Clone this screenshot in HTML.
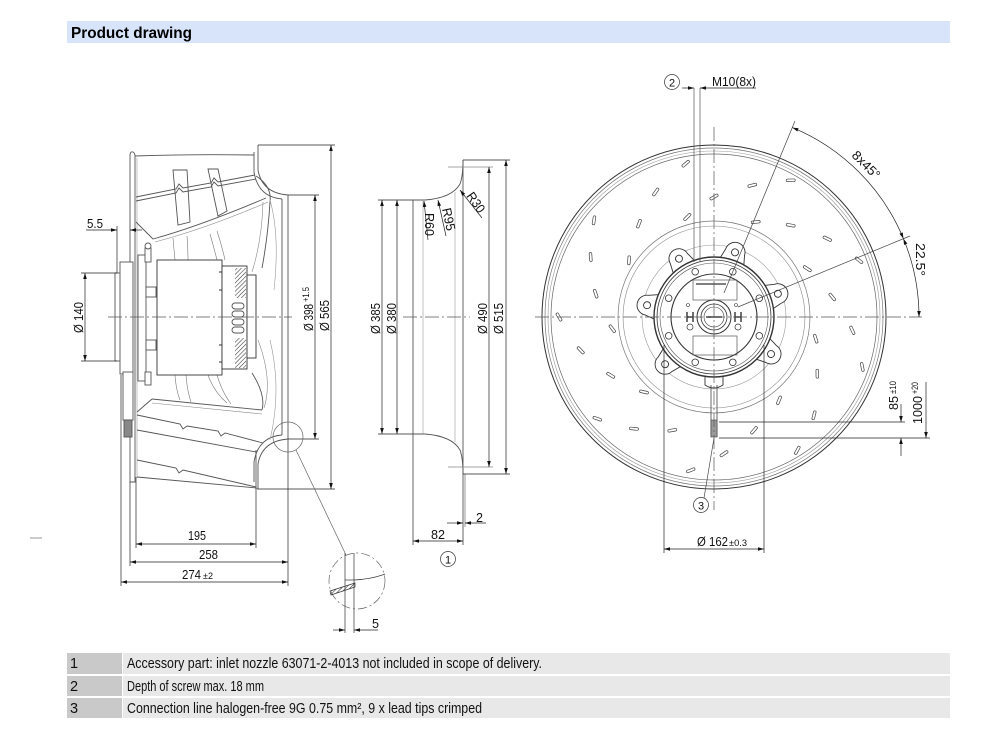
<!DOCTYPE html>
<html><head><meta charset="utf-8">
<style>
html,body{margin:0;padding:0;background:#fff;}
svg{display:block;}
</style></head><body>
<svg width="1000" height="740" viewBox="0 0 1000 740" xmlns="http://www.w3.org/2000/svg" font-family="'Liberation Sans Narrow','Liberation Sans',Arial,sans-serif">
<defs>
<marker id="ar" viewBox="0 0 10 6" refX="10" refY="3" markerWidth="8" markerHeight="3.6" orient="auto-start-reverse" markerUnits="userSpaceOnUse"><path d="M0,0L10,3L0,6z" fill="#111"/></marker>
<pattern id="h" width="3" height="3" patternUnits="userSpaceOnUse" patternTransform="rotate(45)"><line x1="0" y1="0" x2="0" y2="3" stroke="#333" stroke-width="1.1"/></pattern>
</defs>
<rect width="1000" height="740" fill="#fff"/>

<!-- Header -->
<rect x="67" y="21" width="883" height="22" fill="#d7e4fa"/>
<text x="71" y="38" font-size="16" font-weight="bold" fill="#000" textLength="121" lengthAdjust="spacingAndGlyphs">Product drawing</text>

<!-- small dash at left -->
<line x1="30" y1="538" x2="42" y2="538" stroke="#999" stroke-width="1"/>

<!-- ================= LEFT VIEW ================= -->
<g fill="none" stroke="#555" stroke-width="0.9">
  <path d="M130,156 Q130,151 133,152 Q135,153 135,156 L135,482 L130,482 Z" fill="#fff"/>
  <path d="M137,158 L137,478" stroke="#999" stroke-width="0.6"/>
  <path d="M135,156 Q190,154 254,155"/>
  <path d="M258,145 L258,170 Q262,193 288,195"/>
  <path d="M254,152 L254,172 Q258,197 282,199"/>
  <path d="M282,199 L282,435"/>
  <path d="M288,195 L288,439"/>
  <path d="M258,489 L258,464 Q262,441 288,439"/>
  <path d="M254,482 L254,462 Q258,437 282,435"/>
  <path d="M136,197 L176,189 L179,184 L183,188 L211,183 L214,178 L218,182 L255,175"/>
  <path d="M136,201 L176,193 L179,188 L183,192 L211,187 L214,182 L218,186 L256,179"/>
  <path d="M136,222 L153,239 Q200,226 266,198"/>
  <path d="M155,242 Q205,229 268,202" stroke="#888" stroke-width="0.6"/>
  <path d="M173,170 L187,170 L190,222 L178,225 Z"/>
  <path d="M208,169 L218,169 L227,211 L218,216 Z"/>
  <path d="M256,176 Q272,186 270,202 Q268,236 262,268"/>
  <path d="M263,202 Q262,240 252,272" stroke="#888" stroke-width="0.6"/>
  <path d="M270,200 Q280,235 274,290" stroke="#999" stroke-width="0.6"/>
  <path d="M173,238 Q174,250 175,260" stroke="#777" stroke-width="0.6"/>
  <path d="M187,236 Q188,250 188,260" stroke="#777" stroke-width="0.6"/>
  <path d="M210,234 Q214,248 217,260" stroke="#777" stroke-width="0.6"/>
  <path d="M217,231 Q222,246 225,260" stroke="#777" stroke-width="0.6"/>
  <path d="M175,375 Q176,390 180,400" stroke="#777" stroke-width="0.6"/>
  <path d="M186,375 Q187,390 191,402" stroke="#777" stroke-width="0.6"/>
  <path d="M208,375 Q214,392 227,403" stroke="#777" stroke-width="0.6"/>
  <path d="M217,375 Q222,392 231,404" stroke="#777" stroke-width="0.6"/>
  <path d="M152,399 L262,410"/>
  <path d="M152,403 L262,414" stroke="#888" stroke-width="0.6"/>
  <path d="M152,399 L137,412"/>
  <path d="M252,373 Q266,395 262,410"/>
  <path d="M258,340 Q273,380 264,408" stroke="#888" stroke-width="0.6"/>
  <path d="M270,340 Q282,390 270,440" stroke="#999" stroke-width="0.6"/>
  <path d="M137,415 L180,424 L183,429 L187,426 L218,431 L221,436 L225,433 L263,443"/>
  <path d="M137,430 L256,452"/>
  <path d="M137,460 L176,468 L179,473 L183,470 L256,487"/>
  <path d="M137,477 L257,488"/>
  <path d="M256,450 L256,487"/>
  <rect x="115" y="273" width="6" height="88" fill="#fff"/>
  <rect x="120" y="262" width="13" height="112" fill="#fff"/>
  <rect x="138" y="255" width="8" height="126" fill="#fff"/>
  <rect x="145" y="248" width="6" height="14" fill="#fff"/>
  <circle cx="148" cy="246" r="3" fill="#fff"/>
  <rect x="145" y="372" width="6" height="13" fill="#fff"/>
  <rect x="146" y="287" width="10" height="10" fill="#fff"/>
  <rect x="146" y="340" width="10" height="10" fill="#fff"/>
  <rect x="157" y="260" width="65" height="115" fill="#fff" stroke="#333"/>
  <path d="M219,272 L223,272 M219,290 L223,290 M219,345 L223,345 M219,362 L223,362" stroke="#333"/>
  <rect x="222" y="266" width="25" height="103" fill="#fff" stroke="#333"/>
  <rect x="235" y="268" width="11" height="30" fill="url(#h)" stroke="none"/>
  <rect x="235" y="338" width="11" height="30" fill="url(#h)" stroke="none"/>
  <rect x="232" y="303" width="12" height="6" rx="3"/>
  <rect x="232" y="311" width="12" height="6" rx="3"/>
  <rect x="232" y="319" width="12" height="6" rx="3"/>
  <rect x="232" y="327" width="12" height="6" rx="3"/>
  <rect x="247" y="275" width="9" height="83" fill="#fff" stroke="#333"/>
  <rect x="123" y="372" width="10" height="48" fill="#fff"/>
  <rect x="124" y="420" width="8" height="17" fill="#888"/>
</g>
<line x1="108" y1="317" x2="292" y2="317" stroke="#555" stroke-width="0.7" stroke-dasharray="14 3 2 3"/>

<g stroke="#222" stroke-width="0.7" fill="none">
  <line x1="258" y1="145" x2="335" y2="145"/>
  <line x1="257" y1="489" x2="335" y2="489"/>
  <line x1="288" y1="195" x2="319" y2="195"/>
  <line x1="288" y1="439" x2="319" y2="439"/>
  <line x1="81" y1="273" x2="117" y2="273"/>
  <line x1="81" y1="361" x2="117" y2="361"/>
  <line x1="117" y1="226" x2="117" y2="273"/>
  <line x1="121" y1="375" x2="121" y2="586"/>
  <line x1="130" y1="482" x2="130" y2="566"/>
  <line x1="136" y1="477" x2="136" y2="548"/>
  <line x1="256" y1="488" x2="256" y2="548"/>
  <line x1="288" y1="439" x2="288" y2="586"/>
  <line x1="331" y1="145" x2="331" y2="489" marker-start="url(#ar)" marker-end="url(#ar)"/>
  <line x1="315" y1="195" x2="315" y2="439" marker-start="url(#ar)" marker-end="url(#ar)"/>
  <line x1="85" y1="273" x2="85" y2="361" marker-start="url(#ar)" marker-end="url(#ar)"/>
  <line x1="86" y1="230" x2="117" y2="230" marker-end="url(#ar)"/>
  <line x1="142" y1="230" x2="130" y2="230" marker-end="url(#ar)"/>
  <line x1="136" y1="544" x2="256" y2="544" marker-start="url(#ar)" marker-end="url(#ar)"/>
  <line x1="130" y1="562" x2="288" y2="562" marker-start="url(#ar)" marker-end="url(#ar)"/>
  <line x1="121" y1="582" x2="288" y2="582" marker-start="url(#ar)" marker-end="url(#ar)"/>
</g>
<g fill="none" stroke="#666" stroke-width="0.7">
  <circle cx="288" cy="437" r="15"/>
  <line x1="296" y1="450" x2="346" y2="555"/>
  <circle cx="357" cy="581" r="28" stroke-dasharray="9 3 2 3"/>
  <line x1="345" y1="553" x2="345" y2="633" stroke="#333"/>
  <line x1="354" y1="553" x2="354" y2="633" stroke="#333"/>
  <path d="M354,580 Q372,579 385,574" stroke="#333"/>
  <path d="M345,580 L354,580" stroke="#333"/>
  <path d="M330,591 L355,583 L355,587 L331,595 Z" fill="url(#h)" stroke="#333"/>
</g>
<g stroke="#222" stroke-width="0.7">
  <line x1="333" y1="630" x2="345" y2="630" marker-end="url(#ar)"/>
  <line x1="378" y1="630" x2="354" y2="630" marker-end="url(#ar)"/>
</g>

<g font-size="13" fill="#111">
  <text x="87" y="228" textLength="16" lengthAdjust="spacingAndGlyphs">5.5</text>
  <text transform="translate(83,333) rotate(-90)" textLength="31" lengthAdjust="spacingAndGlyphs">Ø 140</text>
  <text transform="translate(313,331) rotate(-90)" textLength="27" lengthAdjust="spacingAndGlyphs">Ø 398</text>
  <text transform="translate(309,302) rotate(-90)" font-size="9" textLength="15" lengthAdjust="spacingAndGlyphs">+1.5</text>
  <text transform="translate(329,331) rotate(-90)" textLength="31" lengthAdjust="spacingAndGlyphs">Ø 565</text>
  <text x="188" y="540" textLength="18" lengthAdjust="spacingAndGlyphs">195</text>
  <text x="199" y="559" textLength="19" lengthAdjust="spacingAndGlyphs">258</text>
  <text x="182" y="579" textLength="19" lengthAdjust="spacingAndGlyphs">274</text>
  <text x="203" y="579" font-size="9" textLength="10" lengthAdjust="spacingAndGlyphs">±2</text>
  <text x="372" y="628" textLength="7" lengthAdjust="spacingAndGlyphs">5</text>
</g>

<!-- ================= MIDDLE VIEW ================= -->
<g fill="none" stroke="#555" stroke-width="0.9">
  <line x1="413" y1="200" x2="413" y2="545"/>
  <line x1="463" y1="160" x2="463" y2="545"/>
  <line x1="465" y1="474" x2="465" y2="527" stroke-width="0.6"/>
  <path d="M413,200 L425,200 Q452,198 460,184 Q463,176 463,160"/>
  <path d="M413,434 L425,434 Q452,436 460,450 Q463,458 463,474"/>
  <line x1="423" y1="200" x2="423" y2="434" stroke="#999" stroke-width="0.6"/>
  <line x1="455" y1="192" x2="455" y2="442" stroke="#999" stroke-width="0.6"/>
</g>
<line x1="403" y1="317" x2="470" y2="317" stroke="#555" stroke-width="0.7" stroke-dasharray="14 3 2 3"/>
<g stroke="#222" stroke-width="0.7" fill="none">
  <line x1="378" y1="200" x2="413" y2="200"/>
  <line x1="378" y1="434" x2="413" y2="434"/>
  <line x1="463" y1="160" x2="510" y2="160"/>
  <line x1="463" y1="474" x2="510" y2="474"/>
  <line x1="448" y1="167" x2="493" y2="167" stroke="#888"/>
  <line x1="448" y1="467" x2="493" y2="467" stroke="#888"/>
  <line x1="382" y1="200" x2="382" y2="434" marker-start="url(#ar)" marker-end="url(#ar)"/>
  <line x1="397" y1="200" x2="397" y2="434" marker-start="url(#ar)" marker-end="url(#ar)"/>
  <line x1="489" y1="167" x2="489" y2="467" marker-start="url(#ar)" marker-end="url(#ar)"/>
  <line x1="506" y1="160" x2="506" y2="474" marker-start="url(#ar)" marker-end="url(#ar)"/>
  <line x1="413" y1="541" x2="463" y2="541" marker-start="url(#ar)" marker-end="url(#ar)"/>
  <line x1="447" y1="523" x2="463" y2="523" marker-end="url(#ar)"/>
  <line x1="486" y1="523" x2="465" y2="523" marker-end="url(#ar)"/>
  <line x1="428" y1="240" x2="424" y2="201" marker-end="url(#ar)"/>
  <line x1="446" y1="236" x2="438" y2="200" marker-end="url(#ar)"/>
  <line x1="482" y1="218" x2="460" y2="190" marker-end="url(#ar)"/>
  <circle cx="448" cy="559" r="7.5" stroke="#333"/>
</g>
<g font-size="13" fill="#111">
  <text transform="translate(380,334) rotate(-90)" textLength="31" lengthAdjust="spacingAndGlyphs">Ø 385</text>
  <text transform="translate(396,334) rotate(-90)" textLength="31" lengthAdjust="spacingAndGlyphs">Ø 380</text>
  <text transform="translate(487,334) rotate(-90)" textLength="31" lengthAdjust="spacingAndGlyphs">Ø 490</text>
  <text transform="translate(503,334) rotate(-90)" textLength="31" lengthAdjust="spacingAndGlyphs">Ø 515</text>
  <text transform="translate(425,213) rotate(90)" textLength="23" lengthAdjust="spacingAndGlyphs">R60</text>
  <text transform="translate(442,209) rotate(78)" textLength="23" lengthAdjust="spacingAndGlyphs">R95</text>
  <text transform="translate(466,196) rotate(55)" textLength="22" lengthAdjust="spacingAndGlyphs">R30</text>
  <text x="431" y="539" textLength="14" lengthAdjust="spacingAndGlyphs">82</text>
  <text x="476" y="522" textLength="7" lengthAdjust="spacingAndGlyphs">2</text>
  <text x="448" y="563.5" font-size="11" text-anchor="middle">1</text>
</g>

<!-- ================= RIGHT VIEW ================= -->
<g fill="none">
  <circle cx="714" cy="317" r="172" stroke="#333" stroke-width="1"/>
  <circle cx="714" cy="317" r="169" stroke="#777" stroke-width="0.7"/>
  <circle cx="714" cy="317" r="166" stroke="#999" stroke-width="0.6"/>
  <circle cx="714" cy="317" r="163" stroke="#666" stroke-width="0.7"/>
  <circle cx="714" cy="317" r="96" stroke="#777" stroke-width="0.7"/>
  <circle cx="714" cy="317" r="91" stroke="#888" stroke-width="0.6"/>
  <circle cx="714" cy="317" r="72" stroke="#999" stroke-width="0.6"/>
</g>
<g fill="#fff" stroke="#444" stroke-width="0.7">
  <rect x="-4.5" y="-1.3" width="9" height="2.6" rx="1.2" transform="translate(685.7,163.7) rotate(-40.5)"/>
  <rect x="-4.5" y="-1.3" width="9" height="2.6" rx="1.2" transform="translate(655.7,192) rotate(-55)"/>
  <rect x="-4.5" y="-1.3" width="9" height="2.6" rx="1.2" transform="translate(594,220.3) rotate(-81)"/>
  <rect x="-4.5" y="-1.3" width="9" height="2.6" rx="1.2" transform="translate(639,223.7) rotate(-69)"/>
  <rect x="-4.5" y="-1.3" width="9" height="2.6" rx="1.2" transform="translate(590.7,257) rotate(-94)"/>
  <rect x="-4.5" y="-1.3" width="9" height="2.6" rx="1.2" transform="translate(629,260.3) rotate(-86)"/>
  <rect x="-4.5" y="-1.3" width="9" height="2.6" rx="1.2" transform="translate(687.3,217) rotate(-45)"/>
  <rect x="-4.5" y="-1.3" width="9" height="2.6" rx="1.2" transform="translate(714,197) rotate(-30)"/>
  <rect x="-4.5" y="-1.3" width="9" height="2.6" rx="1.2" transform="translate(752.3,185.3) rotate(-14)"/>
  <rect x="-4.5" y="-1.3" width="9" height="2.6" rx="1.2" transform="translate(790.7,180.3) rotate(-1)"/>
  <rect x="-4.5" y="-1.3" width="9" height="2.6" rx="1.2" transform="translate(755.7,222) rotate(-6)"/>
  <rect x="-4.5" y="-1.3" width="9" height="2.6" rx="1.2" transform="translate(790.7,225.3) rotate(10)"/>
  <rect x="-4.5" y="-1.3" width="9" height="2.6" rx="1.2" transform="translate(827.3,238.7) rotate(25)"/>
  <rect x="-4.5" y="-1.3" width="9" height="2.6" rx="1.2" transform="translate(859,260.3) rotate(39)"/>
  <rect x="-4.5" y="-1.3" width="9" height="2.6" rx="1.2" transform="translate(807.3,268.7) rotate(33)"/>
  <rect x="-4.5" y="-1.3" width="9" height="2.6" rx="1.2" transform="translate(832.3,297) rotate(50)"/>
  <rect x="-4.5" y="-1.3" width="9" height="2.6" rx="1.2" transform="translate(852.3,330.3) rotate(65)"/>
  <rect x="-4.5" y="-1.3" width="9" height="2.6" rx="1.2" transform="translate(862.3,367) rotate(79)"/>
  <rect x="-4.5" y="-1.3" width="9" height="2.6" rx="1.2" transform="translate(815.7,338.7) rotate(72)"/>
  <rect x="-4.5" y="-1.3" width="9" height="2.6" rx="1.2" transform="translate(817.3,373.7) rotate(89)"/>
  <rect x="-4.5" y="-1.3" width="9" height="2.6" rx="1.2" transform="translate(779,400.3) rotate(112)"/>
  <rect x="-4.5" y="-1.3" width="9" height="2.6" rx="1.2" transform="translate(814,415.3) rotate(104)"/>
  <rect x="-4.5" y="-1.3" width="9" height="2.6" rx="1.2" transform="translate(754,430.3) rotate(131)"/>
  <rect x="-4.5" y="-1.3" width="9" height="2.6" rx="1.2" transform="translate(797.3,450.3) rotate(118)"/>
  <rect x="-4.5" y="-1.3" width="9" height="2.6" rx="1.2" transform="translate(724,453.7) rotate(146)"/>
  <rect x="-4.5" y="-1.3" width="9" height="2.6" rx="1.2" transform="translate(690.7,470.3) rotate(159)"/>
  <rect x="-4.5" y="-1.3" width="9" height="2.6" rx="1.2" transform="translate(672.3,430.3) rotate(170)"/>
  <rect x="-4.5" y="-1.3" width="9" height="2.6" rx="1.2" transform="translate(634,428.7) rotate(186)"/>
  <rect x="-4.5" y="-1.3" width="9" height="2.6" rx="1.2" transform="translate(644,392) rotate(193)"/>
  <rect x="-4.5" y="-1.3" width="9" height="2.6" rx="1.2" transform="translate(610.7,375.3) rotate(211)"/>
  <rect x="-4.5" y="-1.3" width="9" height="2.6" rx="1.2" transform="translate(597.3,418.7) rotate(199)"/>
  <rect x="-4.5" y="-1.3" width="9" height="2.6" rx="1.2" transform="translate(580.7,350.3) rotate(226)"/>
  <rect x="-4.5" y="-1.3" width="9" height="2.6" rx="1.2" transform="translate(612.3,328.7) rotate(233)"/>
  <rect x="-4.5" y="-1.3" width="9" height="2.6" rx="1.2" transform="translate(595.7,293.7) rotate(-109)"/>
  <rect x="-4.5" y="-1.3" width="9" height="2.6" rx="1.2" transform="translate(559,317) rotate(240)"/>
</g>

<g stroke="#333" stroke-width="0.9" fill="#fff">
  <g transform="translate(714,317)">
    <g transform="rotate(-121)"><path d="M48,-15 L68,-10 A10,10 0 0 1 68,10 L48,15 Z"/><circle cx="68" cy="0" r="3.5"/></g>
    <g transform="rotate(-72)"><path d="M48,-15 L68,-10 A10,10 0 0 1 68,10 L48,15 Z"/><circle cx="68" cy="0" r="3.5"/></g>
    <g transform="rotate(-20)"><path d="M48,-15 L68,-10 A10,10 0 0 1 68,10 L48,15 Z"/><circle cx="68" cy="0" r="3.5"/></g>
    <g transform="rotate(-170)"><path d="M48,-15 L68,-10 A10,10 0 0 1 68,10 L48,15 Z"/><circle cx="68" cy="0" r="3.5"/></g>
    <g transform="rotate(136)"><path d="M48,-15 L68,-10 A10,10 0 0 1 68,10 L48,15 Z"/><circle cx="68" cy="0" r="3.5"/></g>
    <g transform="rotate(33)"><path d="M48,-15 L68,-10 A10,10 0 0 1 68,10 L48,15 Z"/><circle cx="68" cy="0" r="3.5"/></g>
    <path d="M-9,55 L-9,68 Q0,74 9,68 L9,55 Z"/>
    <circle r="60" stroke-width="1.4"/>
    <circle r="57" fill="none" stroke-width="0.8"/>
    <circle r="54" fill="none" stroke="#555" stroke-width="0.6"/>
    <circle r="43" stroke-width="1.1"/>
    <g stroke-width="0.8">
      <circle cx="18.8" cy="-45.3" r="3.3"/><circle cx="-18.8" cy="-45.3" r="3.3"/>
      <circle cx="45.3" cy="-18.8" r="3.3"/><circle cx="-45.3" cy="-18.8" r="3.3"/>
      <circle cx="45.3" cy="18.8" r="3.3"/><circle cx="-45.3" cy="18.8" r="3.3"/>
      <circle cx="18.8" cy="45.3" r="3.3"/><circle cx="-18.8" cy="45.3" r="3.3"/>
    </g>
    <rect x="-21" y="-37" width="44" height="20" fill="none" stroke="#555" stroke-width="0.7"/>
    <rect x="-21" y="19" width="44" height="19" fill="none" stroke="#555" stroke-width="0.7"/>
    <line x1="-18" y1="-33" x2="12" y2="-33" stroke="#333" stroke-width="1.2"/>
    <circle r="17" stroke-width="1"/>
    <circle r="13" fill="none" stroke-width="0.8"/>
    <circle r="10" fill="none" stroke-width="0.6"/>
    <line x1="-8" y1="0" x2="8" y2="0" stroke="#333" stroke-width="1.5"/>
    <path d="M-27,-5 L-27,5 M-21,-5 L-21,5 M-27,0 L-21,0" stroke-width="1.4"/>
    <path d="M21,-5 L21,5 M27,-5 L27,5 M21,0 L27,0" stroke-width="1.4"/>
    <circle cx="-24" cy="10" r="3" stroke-width="0.7"/>
    <circle cx="24" cy="10" r="3" stroke-width="0.7"/>
    <circle cx="-26" cy="-12" r="1.5" stroke-width="0.6"/>
    <circle cx="22" cy="-12" r="1.5" stroke-width="0.6"/>
  </g>
  <path d="M711,385 L711,437 M717,385 L717,437" fill="none" stroke="#444" stroke-width="0.8"/>
  <rect x="711" y="420" width="6" height="17" fill="#999" stroke="#444" stroke-width="0.6"/>
</g>

<g stroke="#555" stroke-width="0.7" stroke-dasharray="14 3 2 3" fill="none">
  <line x1="535" y1="317" x2="922" y2="317"/>
  <line x1="714" y1="127" x2="714" y2="510"/>
</g>

<g stroke="#222" stroke-width="0.7" fill="none">
  <line x1="694" y1="88" x2="694" y2="262" stroke="#555"/>
  <line x1="700" y1="88" x2="700" y2="262" stroke="#555"/>
  <line x1="682" y1="88" x2="694" y2="88" marker-end="url(#ar)"/>
  <line x1="756" y1="88" x2="700" y2="88" marker-end="url(#ar)"/>
  <circle cx="672" cy="82" r="7.5" stroke="#333"/>
  <line x1="724" y1="293" x2="795" y2="121" stroke="#444"/>
  <line x1="738" y1="307" x2="910" y2="236" stroke="#444"/>
  <path d="M792.4,127.6 A205,205 0 0 1 903.4,238.6" marker-start="url(#ar)" marker-end="url(#ar)"/>
  <path d="M903.4,238.6 A205,205 0 0 1 919,317" marker-start="url(#ar)" marker-end="url(#ar)"/>
  <line x1="719" y1="422" x2="905" y2="422"/>
  <line x1="719" y1="438" x2="930" y2="438"/>
  <line x1="901" y1="404" x2="901" y2="422" marker-end="url(#ar)"/>
  <line x1="901" y1="456" x2="901" y2="438" marker-end="url(#ar)"/>
  <line x1="926" y1="382" x2="926" y2="438" marker-end="url(#ar)"/>
  <line x1="714" y1="438" x2="704" y2="498" stroke="#444"/>
  <circle cx="701" cy="505" r="7.5" stroke="#333"/>
  <line x1="664" y1="345" x2="664" y2="553"/>
  <line x1="764" y1="345" x2="764" y2="553"/>
  <line x1="664" y1="549" x2="764" y2="549" marker-start="url(#ar)" marker-end="url(#ar)"/>
</g>
<g font-size="13" fill="#111">
  <text x="672" y="86.5" font-size="11" text-anchor="middle">2</text>
  <text x="712" y="86" textLength="44" lengthAdjust="spacingAndGlyphs">M10(8x)</text>
  <text transform="translate(851,156) rotate(45)" textLength="34" lengthAdjust="spacingAndGlyphs">8x45°</text>
  <text transform="translate(916,243) rotate(90)" textLength="33" lengthAdjust="spacingAndGlyphs">22.5°</text>
  <text transform="translate(898,410) rotate(-90)" textLength="14" lengthAdjust="spacingAndGlyphs">85</text>
  <text transform="translate(896,394) rotate(-90)" font-size="9" textLength="13" lengthAdjust="spacingAndGlyphs">±10</text>
  <text transform="translate(922,424) rotate(-90)" textLength="28" lengthAdjust="spacingAndGlyphs">1000</text>
  <text transform="translate(918,394) rotate(-90)" font-size="9" textLength="12" lengthAdjust="spacingAndGlyphs">+20</text>
  <text x="701" y="509.5" font-size="11" text-anchor="middle">3</text>
  <text x="697" y="546" textLength="31" lengthAdjust="spacingAndGlyphs">Ø 162</text>
  <text x="729" y="546" font-size="9" textLength="18" lengthAdjust="spacingAndGlyphs">±0.3</text>
</g>

<!-- ================= TABLE ================= -->
<rect x="67" y="653" width="55" height="21" fill="#c9c9c9"/>
<rect x="123" y="653" width="827" height="21" fill="#e8e8e8"/>
<rect x="67" y="676" width="55" height="20" fill="#c9c9c9"/>
<rect x="123" y="676" width="827" height="20" fill="#e8e8e8"/>
<rect x="67" y="698" width="55" height="20" fill="#c9c9c9"/>
<rect x="123" y="698" width="827" height="20" fill="#e8e8e8"/>
<g font-size="14.5" fill="#111">
  <text x="70" y="668">1</text>
  <text x="127" y="668" textLength="415" lengthAdjust="spacingAndGlyphs">Accessory part: inlet nozzle 63071-2-4013 not included in scope of delivery.</text>
  <text x="70" y="691">2</text>
  <text x="127" y="691" textLength="137" lengthAdjust="spacingAndGlyphs">Depth of screw max. 18 mm</text>
  <text x="70" y="713">3</text>
  <text x="127" y="713" textLength="355" lengthAdjust="spacingAndGlyphs">Connection line halogen-free 9G 0.75 mm², 9 x lead tips crimped</text>
</g>
</svg>
</body></html>
